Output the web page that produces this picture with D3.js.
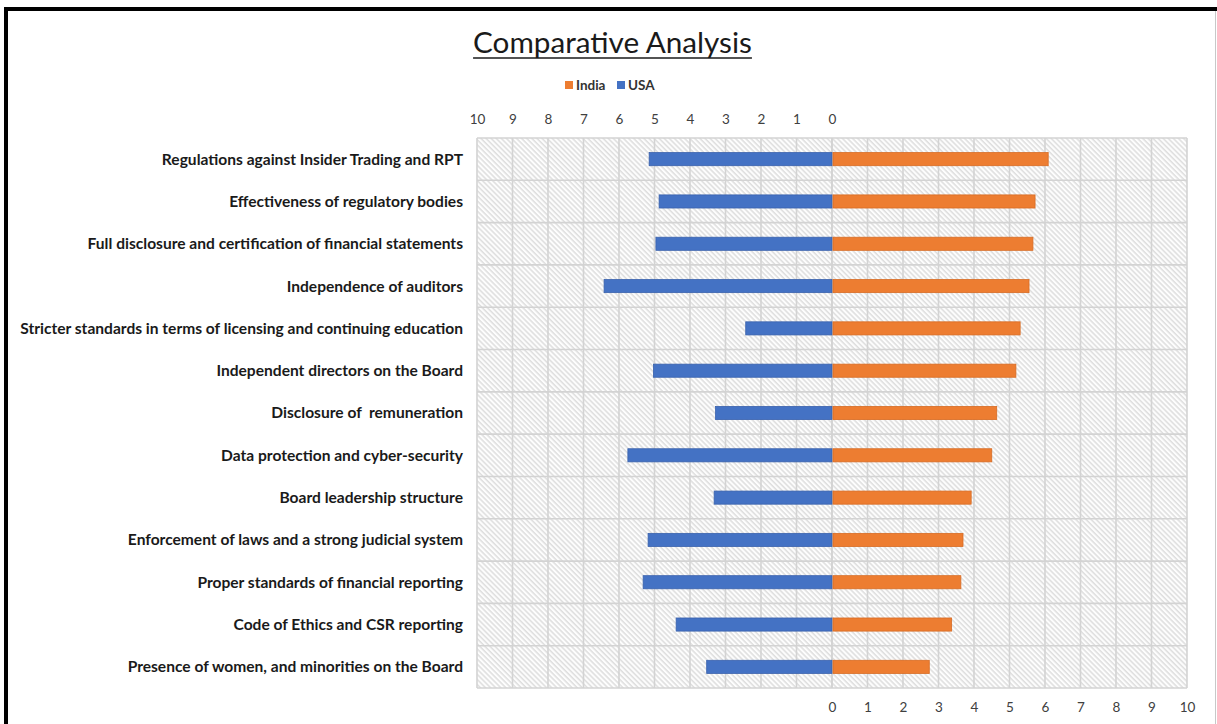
<!DOCTYPE html>
<html>
<head>
<meta charset="utf-8">
<script src="https://cdn.jsdelivr.net/npm/d3@7"></script>
<style>
  html, body { margin: 0; padding: 0; background: #fff; }
  svg { display: block; }
  text { font-family: Lato, "Open Sans", sans-serif; white-space: pre; }
</style>
</head>
<body>
<svg id="chart" width="1217" height="724"></svg>
<script>
const categories = [
  "Regulations against Insider Trading and RPT",
  "Effectiveness of regulatory bodies",
  "Full disclosure and certification of financial statements",
  "Independence of auditors",
  "Stricter standards in terms of licensing and continuing education",
  "Independent directors on the Board",
  "Disclosure of  remuneration",
  "Data protection and cyber-security",
  "Board leadership structure",
  "Enforcement of laws and a strong judicial system",
  "Proper standards of financial reporting",
  "Code of Ethics and CSR reporting",
  "Presence of women, and minorities on the Board"
];
const usaValues   = [5.15, 4.87, 4.96, 6.42, 2.43, 5.03, 3.28, 5.75, 3.32, 5.18, 5.32, 4.39, 3.53];
const indiaValues = [6.09, 5.72, 5.66, 5.55, 5.30, 5.18, 4.64, 4.50, 3.92, 3.69, 3.63, 3.37, 2.74];
const tickValues  = [0, 1, 2, 3, 4, 5, 6, 7, 8, 9, 10];
const seriesNames = ["India", "USA"];
const seriesColors = ["#ED7D31", "#4472C4"];
const titleText = "Comparative Analysis";

const svg = d3.select("#chart");
const W = 1217, H = 724;

// layout
const zeroX = 832, plotLeft = 477, plotRight = 1187, plotTop = 138, plotBottom = 688;

const xL = d3.scaleLinear().domain([0, 10]).range([zeroX, plotLeft]);
const xR = d3.scaleLinear().domain([0, 10]).range([zeroX, plotRight]);
const y = d3.scaleBand().domain(categories).range([plotTop, plotBottom]).padding(0);

// frame of the picture
svg.append("rect").attr("x", 0).attr("y", 0).attr("width", W).attr("height", H).attr("fill", "#fff");
svg.append("line").attr("x1", 4).attr("x2", W).attr("y1", 9).attr("y2", 9)
  .attr("stroke", "#000").attr("stroke-width", 4);
svg.append("line").attr("x1", 6).attr("x2", 6).attr("y1", 7).attr("y2", H)
  .attr("stroke", "#000").attr("stroke-width", 4);
svg.append("line").attr("x1", 1215.5).attr("x2", 1215.5).attr("y1", 11).attr("y2", H)
  .attr("stroke", "#c8c8c8").attr("stroke-width", 1);

// hatch pattern
const defs = svg.append("defs");
const pat = defs.append("pattern").attr("id", "hatch")
  .attr("patternUnits", "userSpaceOnUse").attr("width", 3.6).attr("height", 3.6)
  .attr("patternTransform", "rotate(-45)");
pat.append("rect").attr("width", 3.6).attr("height", 3.6).attr("fill", "#fdfdfd");
pat.append("line").attr("x1", 1).attr("x2", 1).attr("y1", 0).attr("y2", 3.6)
  .attr("stroke", "#d2d2d2").attr("stroke-width", 1.1);

svg.append("rect")
  .attr("x", plotLeft).attr("y", plotTop)
  .attr("width", plotRight - plotLeft).attr("height", plotBottom - plotTop)
  .attr("fill", "url(#hatch)");

// grid
const grid = svg.append("g").attr("stroke", "#d3d3d3").attr("stroke-width", 1.6);
tickValues.forEach(v => {
  grid.append("line").attr("x1", xL(v)).attr("x2", xL(v)).attr("y1", plotTop).attr("y2", plotBottom);
  grid.append("line").attr("x1", xR(v)).attr("x2", xR(v)).attr("y1", plotTop).attr("y2", plotBottom);
});
const hLines = categories.map(c => y(c)).concat([plotBottom]);
hLines.forEach(v => {
  grid.append("line").attr("x1", plotLeft).attr("x2", plotRight).attr("y1", v).attr("y2", v);
});

// bars
const barH = y.bandwidth() * 0.31;
const barOff = (y.bandwidth() - barH) / 2;

svg.append("g").selectAll("rect")
  .data(categories.map((c, i) => ({ c, v: usaValues[i] })))
  .join("rect")
  .attr("x", d => xL(d.v))
  .attr("y", d => y(d.c) + barOff)
  .attr("width", d => xL(0) - xL(d.v))
  .attr("height", barH)
  .attr("fill", seriesColors[1])
  .attr("stroke", "#3a62ad").attr("stroke-width", 0.8);

svg.append("g").selectAll("rect")
  .data(categories.map((c, i) => ({ c, v: indiaValues[i] })))
  .join("rect")
  .attr("x", d => xR(0) + 1)
  .attr("y", d => y(d.c) + barOff)
  .attr("width", d => xR(d.v) - xR(0) - 1)
  .attr("height", barH)
  .attr("fill", seriesColors[0])
  .attr("stroke", "#d86c24").attr("stroke-width", 0.8);

// axes
const topAxis = d3.axisTop(xL).tickValues(tickValues).tickSize(0).tickPadding(0).tickFormat(d3.format("d"));
const gTop = svg.append("g").attr("transform", "translate(0,124)").call(topAxis);
const botAxis = d3.axisBottom(xR).tickValues(tickValues).tickSize(0).tickPadding(0).tickFormat(d3.format("d"));
const gBot = svg.append("g").attr("transform", "translate(0,702)").call(botAxis);
[gTop, gBot].forEach(g => {
  g.select(".domain").remove();
  g.selectAll("text").attr("font-size", 13.5).attr("fill", "#404040")
    .style("font-family", "Lato, 'Open Sans', sans-serif");
});

// category labels
const labels = svg.append("g").selectAll("text")
  .data(categories).join("text")
  .attr("x", 463)
  .attr("y", d => y(d) + y.bandwidth() / 2)
  .attr("dy", "0.35em")
  .attr("text-anchor", "end")
  .attr("font-weight", "bold")
  .attr("font-size", 13)
  .attr("fill", "#1a1a1a")
  .text(d => d);
let maxW = 0;
labels.each(function() { maxW = Math.max(maxW, this.getComputedTextLength()); });
const fs = 13 * 443 / maxW;
labels.attr("font-size", fs);

// title
const title = svg.append("text")
  .attr("x", 612.5).attr("y", 53)
  .attr("text-anchor", "middle")
  .attr("font-size", 26)
  .attr("fill", "#1a1a1a")
  .text(titleText);
const tw = title.node().getComputedTextLength();
const tfs = 26 * 279 / tw;
title.attr("font-size", tfs);
const tw2 = title.node().getComputedTextLength();
svg.append("line")
  .attr("x1", 612.5 - tw2 / 2).attr("x2", 612.5 + tw2 / 2)
  .attr("y1", 58).attr("y2", 58)
  .attr("stroke", "#1a1a1a").attr("stroke-width", 1.4);

// legend
const legend = svg.append("g");
const legItems = [
  { name: seriesNames[0], color: seriesColors[0], x: 565 },
  { name: seriesNames[1], color: seriesColors[1], x: 617 }
];
legItems.forEach(it => {
  legend.append("rect").attr("x", it.x).attr("y", 81).attr("width", 8).attr("height", 8).attr("fill", it.color);
  legend.append("text").attr("x", it.x + 11).attr("y", 85.5).attr("dy", "0.35em")
    .attr("font-size", 13.5).attr("font-weight", "bold").attr("fill", "#333")
    .text(it.name);
});
</script>
</body>
</html>
